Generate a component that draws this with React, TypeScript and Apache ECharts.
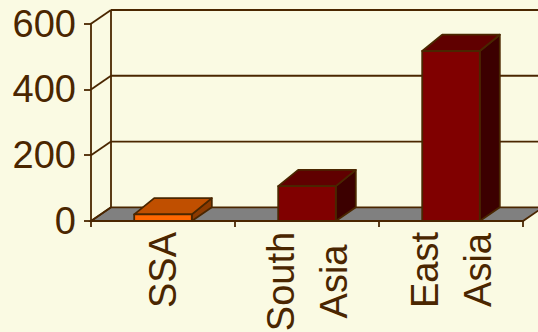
import React, { useEffect, useRef } from 'react';
import * as echarts from 'echarts';

// Regional totals shown as 3D columns
const categories = ['SSA', 'South\nAsia', 'East\nAsia'];
const values = [20, 106, 517];
const yTicks = [0, 200, 400, 600];

const BG = '#FAFAE3';
const INK = '#4A2600';
const FLOOR = '#808080';
const barColors = [
  { front: '#FF6600', top: '#C04F00', side: '#8C3A00' },
  { front: '#800000', top: '#600000', side: '#3C0000' },
  { front: '#800000', top: '#600000', side: '#3C0000' },
];

// oblique offsets for the walls and for the column depth
const WALL_DX = 20;
const WALL_DY = -13.7;
const BAR_DX = 20;
const BAR_DY = -16.3;
const BAR_RATIO = 0.4;
const LW = 1.8;

export default function App() {
  const ref = useRef<HTMLDivElement>(null);

  useEffect(() => {
    const chart = echarts.init(ref.current!, null, { renderer: 'svg' });
    const font = "'Liberation Sans', Arial, sans-serif";

    const frameSeries = {
      type: 'custom',
      z: 1,
      silent: true,
      data: yTicks.map((t) => [0, t]),
      renderItem: (params: any, api: any) => {
        const cs = params.coordSys;
        const v = api.value(1);
        const y = api.coord([0, v])[1];
        const left = cs.x;
        const right = cs.x + cs.width;
        const line = { stroke: INK, lineWidth: LW };
        const children: any[] = [];
        if (v === 0) {
          children.push({
            type: 'polygon',
            shape: {
              points: [
                [left, y],
                [right, y],
                [right + WALL_DX, y + WALL_DY],
                [left + WALL_DX, y + WALL_DY],
              ],
            },
            style: { fill: FLOOR, ...line },
          });
        } else {
          children.push({
            type: 'line',
            shape: { x1: left + WALL_DX, y1: y + WALL_DY, x2: right + WALL_DX + 40, y2: y + WALL_DY },
            style: line,
          });
        }
        children.push({
          type: 'line',
          shape: { x1: left, y1: y, x2: left + WALL_DX, y2: y + WALL_DY },
          style: line,
        });
        if (params.dataIndex === 0) {
          children.push({
            type: 'line',
            shape: {
              x1: left + WALL_DX,
              y1: cs.y + cs.height + WALL_DY,
              x2: left + WALL_DX,
              y2: cs.y + WALL_DY,
            },
            style: line,
          });
        }
        return { type: 'group', children };
      },
    };

    const barSeries = {
      type: 'custom',
      z: 3,
      data: values.map((v, i) => [i, v]),
      renderItem: (params: any, api: any) => {
        const i = api.value(0);
        const v = api.value(1);
        const top = api.coord([i, v]);
        const base = api.coord([i, 0]);
        const w = api.size([1, 0])[0] * BAR_RATIO;
        const x0 = top[0] - w / 2;
        const x1 = top[0] + w / 2;
        const yt = top[1];
        const yb = base[1];
        const c = barColors[i];
        const st = { stroke: INK, lineWidth: LW, lineJoin: 'round' };
        return {
          type: 'group',
          children: [
            {
              type: 'polygon',
              shape: {
                points: [
                  [x1, yb],
                  [x1 + BAR_DX, yb + WALL_DY],
                  [x1 + BAR_DX, yt + BAR_DY],
                  [x1, yt],
                ],
              },
              style: { fill: c.side, ...st },
            },
            {
              type: 'polygon',
              shape: {
                points: [
                  [x0, yt],
                  [x1, yt],
                  [x1 + BAR_DX, yt + BAR_DY],
                  [x0 + BAR_DX, yt + BAR_DY],
                ],
              },
              style: { fill: c.top, ...st },
            },
            {
              type: 'rect',
              shape: { x: x0, y: yt, width: w, height: yb - yt },
              style: { fill: c.front, ...st },
            },
          ],
        };
      },
    };

    chart.setOption({
      animation: false,
      backgroundColor: BG,
      grid: {
        left: 91,
        right: 15,
        top: 23.7,
        bottom: 111,
        containLabel: false,
        outerBoundsMode: 'none',
      },
      xAxis: {
        type: 'category',
        // the two-line label hangs from the axis by its longer line
        data: categories.map((c) =>
          c === 'South\nAsia'
            ? {
                value: c,
                textStyle: { align: 'center', verticalAlign: 'middle', padding: [0, 23, 0, 0] },
              }
            : c
        ),
        boundaryGap: true,
        axisLine: { show: true, lineStyle: { color: INK, width: LW } },
        axisTick: { show: true, length: 6, lineStyle: { color: INK, width: LW } },
        axisLabel: {
          interval: 0,
          rotate: 90,
          align: 'center',
          verticalAlign: 'middle',
          margin: 49,
          lineHeight: 53,
          fontSize: 38,
          fontFamily: font,
          color: INK,
        },
        splitLine: { show: false },
      },
      yAxis: {
        type: 'value',
        min: 0,
        max: 600,
        interval: 200,
        axisLine: { show: true, lineStyle: { color: INK, width: LW } },
        axisTick: { show: true, length: 7, lineStyle: { color: INK, width: LW } },
        axisLabel: { fontSize: 38, margin: 15, fontFamily: font, color: INK },
        splitLine: { show: false },
      },
      series: [frameSeries, barSeries],
    });

    return () => chart.dispose();
  }, []);

  return (
    <div
      ref={ref}
      style={{ position: 'fixed', left: 0, top: 0, width: 538, height: 332 }}
    />
  );
}
